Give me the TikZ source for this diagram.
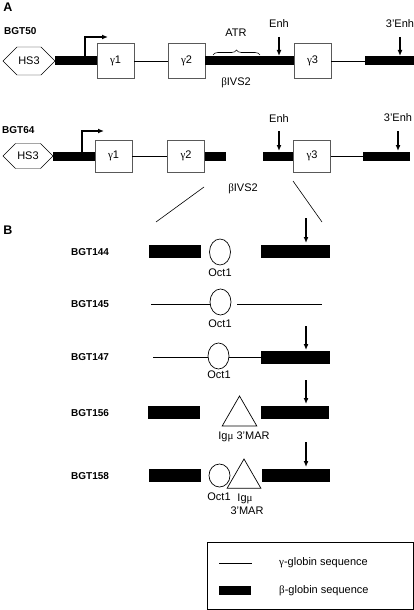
\documentclass[tikz,border=0pt]{standalone}
\usepackage{fontspec}
\setmainfont{Liberation Sans}
\newfontfamily\grk{Liberation Serif}
\usetikzlibrary{arrows.meta,shapes.geometric,shapes.symbols,decorations.pathreplacing}
\tikzset{
  lbl/.style={inner sep=1pt, font=\fontsize{11}{13}\selectfont},
  bgt/.style={inner sep=1pt, anchor=west, font=\fontsize{10}{12}\selectfont\bfseries},
  panel/.style={inner sep=1pt, font=\fontsize{12.5}{14}\selectfont\bfseries},
  gbox/.style={draw=black!65, line width=0.6pt, minimum width=37pt, minimum height=35pt, inner sep=0pt, font=\fontsize{11}{13}\selectfont},
  hs/.style={draw, signal, signal to=east and west, minimum width=52pt, minimum height=28pt, inner sep=0pt, font=\fontsize{11}{13}\selectfont},
  tbar/.style={line width=9pt},
  gline/.style={line width=0.8pt},
  bbar/.style={fill=black, minimum height=13pt, inner sep=0pt},
  oct/.style={draw, ellipse, line width=0.7pt, minimum width=21pt, minimum height=26pt, inner sep=0pt},
  mar/.style={draw, regular polygon, regular polygon sides=3, line width=0.7pt, minimum size=40pt, inner sep=0pt},
  enharr/.style={-{Latex[length=6pt,width=5pt]}, line width=1.3pt},
  prom/.style={-{Latex[length=6pt,width=5pt]}, line width=1.5pt}
}
\begin{document}
\begin{tikzpicture}[x=1pt,y=-1pt]
\useasboundingbox (0,0) rectangle (414,610);
\node[panel] (pA) at (8,7) {A};
\node[bgt] (n50) at (3,31) {BGT50};
\node[hs] (hsA) at (29,61) {HS3};
\node[gbox] (g1A) at (115.5,61) {{\grk γ}1};
\node[gbox] (g2A) at (186.5,61) {{\grk γ}2};
\node[gbox] (g3A) at (312.5,61) {{\grk γ}3};
\coordinate (t3A) at (365,61);
\coordinate (endA) at (414,61);
\draw[tbar] (hsA.east) -- (g1A.west);
\draw[gline] (g1A) -- (g2A);
\draw[tbar] (g2A.east) -- (g3A.west);
\draw[gline] (g3A.east) -- (t3A);
\draw[tbar] (t3A) -- (endA);
\coordinate (pmA) at (85,61);
\coordinate (pmAe) at (108,37);
\draw[prom] (pmA) |- (pmAe);
\draw[decorate, decoration={brace, amplitude=5pt}, line width=0.6pt] (213,55) -- (260,55);
\node[lbl] (atr) at (236,33) {ATR};
\node[lbl] (enhA) at (279,24) {Enh};
\node[lbl] (enh3A) at (400,24) {3'Enh};
\coordinate (eA) at (279,37);
\coordinate (e3A) at (400,37);
\draw[enharr] (eA) -- ++(0,19);
\draw[enharr] (e3A) -- ++(0,19);
\node[lbl] (ivsA) at (236,83) {{\grk β}IVS2};

\node[bgt] (n64) at (1,130) {BGT64};
\node[hs, minimum width=50pt, minimum height=25pt] (hsB) at (28,156) {HS3};
\node[gbox, minimum height=32pt] (g1B) at (113.5,156) {{\grk γ}1};
\node[gbox, minimum height=32pt] (g2B) at (186,156) {{\grk γ}2};
\node[gbox, minimum height=32pt] (g3B) at (312,156) {{\grk γ}3};
\coordinate (cut1) at (226,156);
\coordinate (cut2) at (263,156);
\coordinate (t3B) at (363,156);
\coordinate (endB) at (410,156);
\draw[tbar] (hsB.east) -- (g1B.west);
\draw[gline] (g1B) -- (g2B);
\draw[tbar] (g2B.east) -- (cut1);
\draw[tbar] (cut2) -- (g3B.west);
\draw[gline] (g3B.east) -- (t3B);
\draw[tbar] (t3B) -- (endB);
\coordinate (pmB) at (82,156);
\coordinate (pmBe) at (104,131);
\draw[prom] (pmB) |- (pmBe);
\node[lbl] (enhB) at (279,119) {Enh};
\node[lbl] (enh3B) at (398,118) {3'Enh};
\coordinate (eB) at (279,131);
\coordinate (e3B) at (398,131);
\draw[enharr] (eB) -- ++(0,20);
\draw[enharr] (e3B) -- ++(0,20);
\node[lbl] (ivsB) at (243,189) {{\grk β}IVS2};
\coordinate (zl1) at (204,187);
\coordinate (zl2) at (156,222);
\coordinate (zr1) at (293,181);
\coordinate (zr2) at (322,222);
\draw[line width=0.6pt] (zl1) -- (zl2);
\draw[line width=0.6pt] (zr1) -- (zr2);

\node[panel] (pB) at (8,230) {B};
\node[bgt] (n144) at (70,252) {BGT144};
\node[bbar, minimum width=52pt] (l144) at (175,251) {};
\node[oct] (o144) at (220,252) {};
\node[lbl] at (220,273) {Oct1};
\node[bbar, minimum width=69pt] (r144) at (295.5,251) {};
\coordinate (e144) at (306,218);
\draw[enharr] (e144) -- ++(0,25);

\node[bgt] (n145) at (70,304) {BGT145};
\coordinate (s145) at (151,304);
\node[oct] (o145) at (220.5,302) {};
\coordinate (a145) at (237,304);
\coordinate (t145) at (322,304);
\draw[gline] (s145) -- (o145.west |- s145);
\draw[gline] (a145) -- (t145);
\node[lbl] at (220,324) {Oct1};

\node[bgt] (n147) at (70,357) {BGT147};
\coordinate (s147) at (153,357);
\node[oct] (o147) at (218.5,356) {};
\node[bbar, minimum width=69pt] (r147) at (295.5,357) {};
\draw[gline] (s147) -- (o147.west |- s147);
\draw[gline] (o147.east |- s147) -- (r147.west);
\node[lbl] at (219,375) {Oct1};
\coordinate (e147) at (306,326);
\draw[enharr] (e147) -- ++(0,24);

\node[bgt] (n156) at (70,413) {BGT156};
\node[bbar, minimum width=52pt] (l156) at (174,412.5) {};
\node[mar] (m156) at (239.5,416) {};
\node[bbar, minimum width=68pt] (r156) at (295,412.5) {};
\node[lbl] at (244,437) {Ig{\grk μ} 3'MAR};
\coordinate (e156) at (306,380);
\draw[enharr] (e156) -- ++(0,24);

\node[bgt] (n158) at (70,476) {BGT158};
\node[bbar, minimum width=52pt] (l158) at (175,475.5) {};
\node[oct, minimum height=23pt] (o158) at (219.5,475.5) {};
\node[mar, minimum size=39pt] (m158) at (244,478.5) {};
\node[bbar, minimum width=68pt] (r158) at (296,475.5) {};
\node[lbl] at (219,497) {Oct1};
\node[lbl] at (245,499) {Ig{\grk μ}};
\node[lbl] at (247,511) {3'MAR};
\coordinate (e158) at (306,442);
\draw[enharr] (e158) -- ++(0,25);

\node[draw, line width=0.7pt, minimum width=206pt, minimum height=67pt, inner sep=0pt] (key) at (310,575.5) {};
\coordinate (k1) at (219,563);
\coordinate (k2) at (252,563);
\draw[gline] (k1) -- (k2);
\node[bbar, minimum width=32pt, minimum height=9pt] (kb) at (235,590.5) {};
\node[lbl, anchor=west] (kt1) at (278,563) {{\grk γ}-globin sequence};
\node[lbl, anchor=west] (kt2) at (278,591) {{\grk β}-globin sequence};
\end{tikzpicture}
\end{document}
